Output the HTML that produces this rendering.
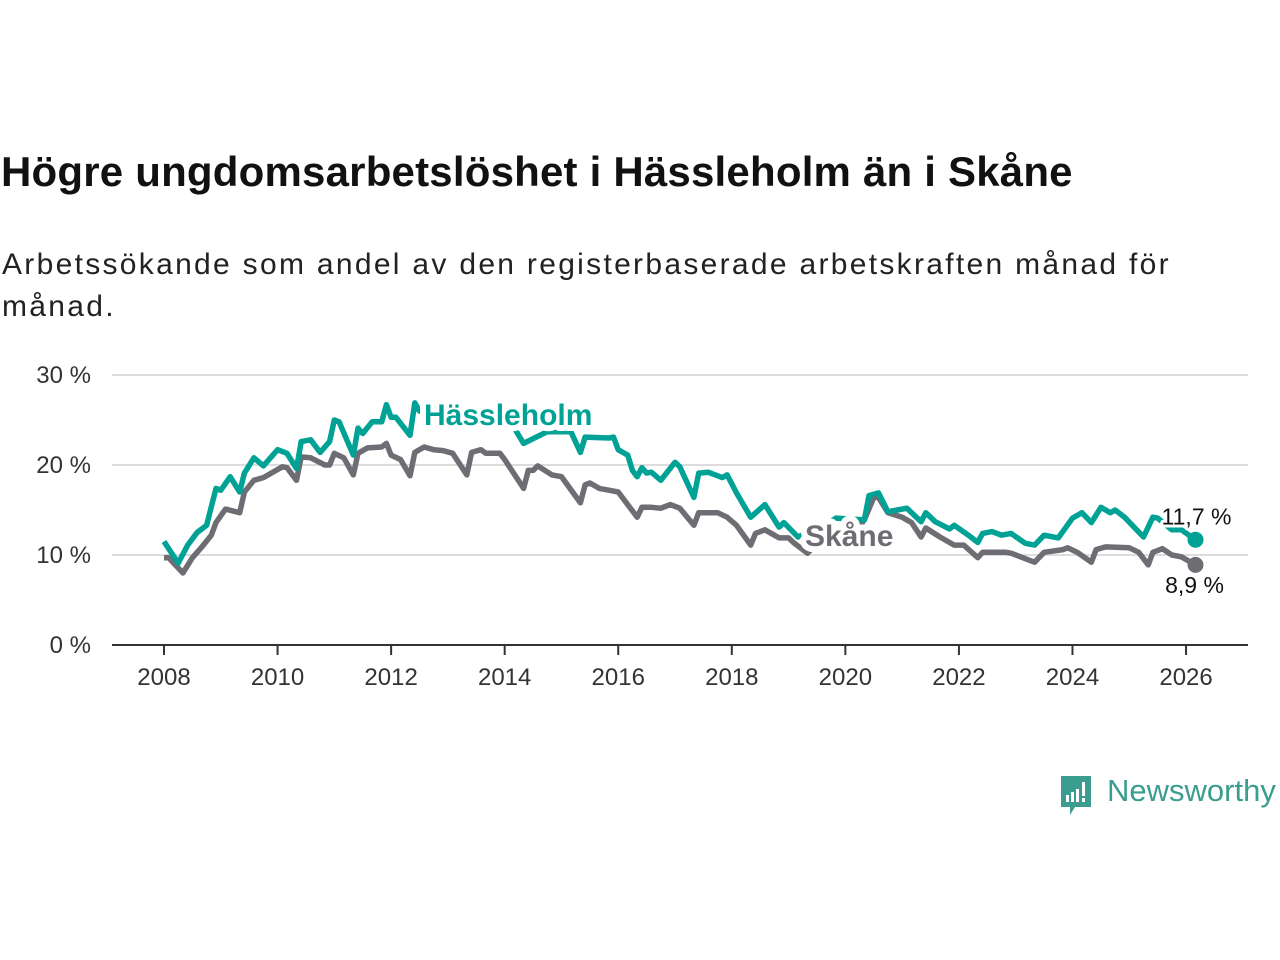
<!DOCTYPE html>
<html><head><meta charset="utf-8">
<style>
body{margin:0;background:#fff;width:1280px;height:960px;overflow:hidden;font-family:"Liberation Sans",sans-serif;position:relative}
#title{position:absolute;left:1px;top:148px;font-size:42px;font-weight:bold;color:#111;margin:0;white-space:nowrap;letter-spacing:0.2px}
#subtitle{position:absolute;left:2px;top:244px;font-size:30px;color:#222;line-height:42px;margin:0;letter-spacing:2.3px;white-space:nowrap}
svg{position:absolute;left:0;top:0}
</style></head><body>
<h1 id="title">Högre ungdomsarbetslöshet i Hässleholm än i Skåne</h1>
<p id="subtitle">Arbetssökande som andel av den registerbaserade arbetskraften månad för<br>månad.</p>
<svg id="chart" width="1280" height="960"></svg>
<div style="position:absolute;left:1059px;top:775px;height:42px;">
<svg width="36" height="44" style="position:absolute;left:0;top:0">
<path d="M2 1 H32 V32 H16 L11 40 V32 H2 Z" fill="#3a9d8f"/>
<rect x="7" y="20" width="3" height="7" fill="#fff"/><rect x="12" y="17" width="3" height="10" fill="#fff"/><rect x="17" y="14" width="3" height="13" fill="#fff"/><rect x="23" y="7" width="3" height="14" fill="#fff"/><rect x="23" y="23" width="3" height="4" fill="#fff"/>
</svg>
<span style="position:absolute;left:48px;top:-2px;font-size:31px;color:#3a9d8f;white-space:nowrap">Newsworthy</span>
</div>
<script>
const yTicks=[0,10,20,30];
const yTickLabels=["0 %","10 %","20 %","30 %"];
const xTicks=[2008,2010,2012,2014,2016,2018,2020,2022,2024,2026];
// months since Jan 2008
const hMonths=[0,3,5,7,9,11,12,14,16,17,19,21,24,26,28,29,31,33,35,36,37,40,41,42,44,46,47,48,49,52,53,54,57,60,63,66,70,73,76,81,86,88,89,94,95,96,98,99,100,101,102,103,105,108,109,112,113,115,118,119,121,124,127,130,131,134,136,139,142,145,148,149,151,153,155,157,160,161,163,166,167,170,172,173,175,177,179,182,184,186,189,192,194,196,198,200,201,203,207,209,210,213,215,218];
const hValues=[11.5,9.1,11.1,12.5,13.3,17.4,17.2,18.7,17,19.1,20.8,19.9,21.7,21.3,19.6,22.6,22.8,21.4,22.6,25,24.8,21.1,24.1,23.5,24.8,24.8,26.7,25.3,25.3,23.3,26.9,26,25.5,26,26,25.5,25.5,25,22.4,23.7,23.7,21.4,23.1,23,23.1,21.7,21.1,19.4,18.7,19.7,19.1,19.2,18.3,20.3,19.8,16.4,19.1,19.2,18.6,18.9,16.9,14.2,15.6,13.1,13.6,12,12.5,13,14.1,14,13.9,16.6,16.9,14.8,15,15.2,13.7,14.7,13.7,12.9,13.3,12.2,11.4,12.4,12.6,12.2,12.4,11.3,11.1,12.2,11.9,14.1,14.7,13.6,15.3,14.7,15,14.2,12,14.2,14.1,12.8,12.8,11.7];
const sMonths=[0,1,4,6,8,10,11,13,16,17,19,21,23,25,26,28,29,31,34,35,36,38,40,41,43,46,47,48,50,52,53,55,57,59,61,64,65,67,68,71,72,73,76,77,78,79,82,84,88,89,90,92,94,96,100,101,103,105,107,109,112,113,117,119,121,124,125,127,130,132,133,136,139,143,146,148,150,151,153,156,158,160,161,164,167,169,172,173,178,179,183,184,186,190,191,193,196,197,199,204,206,208,209,211,213,215,218];
const sValues=[9.7,9.7,8,9.7,10.9,12.2,13.6,15.1,14.7,17,18.3,18.6,19.2,19.8,19.7,18.3,20.9,20.8,20,20,21.3,20.8,18.9,21.3,21.9,22,22.4,21.1,20.6,18.8,21.4,22,21.7,21.6,21.3,18.9,21.4,21.7,21.3,21.3,20.6,19.8,17.4,19.4,19.4,19.9,18.9,18.7,15.8,17.8,18,17.4,17.2,17,14.2,15.3,15.3,15.2,15.6,15.2,13.3,14.7,14.7,14.2,13.3,11.1,12.4,12.8,11.9,11.9,11.4,10.2,11.8,12,12.5,13.9,16.4,16.4,14.7,14.2,13.6,12,13,12,11.1,11.1,9.7,10.3,10.3,10.2,9.4,9.2,10.3,10.6,10.8,10.3,9.2,10.6,10.9,10.8,10.3,8.9,10.3,10.7,10,9.8,8.9];
const seriesNames=["Hässleholm","Skåne"];
const endLabels=["11,7 %","8,9 %"];

const svg=document.getElementById('chart');
const NS='http://www.w3.org/2000/svg';
const x=yr=>164+(yr-2008)*56.78;
const xm=m=>x(2008+m/12);
const y=v=>645-v*9;
function mk(t,a){const e=document.createElementNS(NS,t);for(const k in a)e.setAttribute(k,a[k]);svg.appendChild(e);return e;}

yTicks.forEach((t,i)=>{
  if(t>0){const g=mk('line',{x1:112,x2:1248,y1:y(t),y2:y(t),stroke:'#dcdcdc','stroke-width':2});
  
  }
  const l=mk('text',{x:91,y:y(t)+8,'text-anchor':'end','font-size':24,fill:'#333','font-family':'Liberation Sans, sans-serif'});
  l.textContent=yTickLabels[i];
  
  
});
const ax=mk('line',{x1:112,x2:1248,y1:645,y2:645,stroke:'#333','stroke-width':2});


xTicks.forEach(t=>{
  const tk=mk('line',{x1:x(t),x2:x(t),y1:645,y2:655,stroke:'#333','stroke-width':2});
  
  
  const l=mk('text',{x:x(t),y:685,'text-anchor':'middle','font-size':24,fill:'#333','font-family':'Liberation Sans, sans-serif'});
  l.textContent=t;
  
  
});
function line(ms,vs,col,name){
  const d=ms.map((m,i)=>(i?'L':'M')+xm(m).toFixed(1)+' '+y(vs[i]).toFixed(1)).join(' ');
  const p=mk('path',{d:d,fill:'none',stroke:col,'stroke-width':5.5,'stroke-linejoin':'round'});
  
  
  const n=ms.length-1;
  const c=mk('circle',{cx:xm(ms[n]),cy:y(vs[n]),r:8,fill:col});
  
  
}
line(sMonths,sValues,'#6e6d73','skane');
line(hMonths,hValues,'#00a295','hassleholm');
function lab(txt,xx,yy,col,w,size,name,anchor,sw){
  const t=mk('text',{x:xx,y:yy,'font-size':size,'font-weight':w,fill:col,stroke:'#fff','stroke-width':sw||6,'paint-order':'stroke','stroke-linejoin':'round','text-anchor':anchor||'start','font-family':'Liberation Sans, sans-serif'});
  t.textContent=txt;
  
  
}
lab(seriesNames[0],424,425,'#00a295','bold',30,'hassleholm-label','start',12);
lab(seriesNames[1],805,546,'#6e6d73','bold',30,'skane-label','start',12);
const nh=hMonths.length-1, ns=sMonths.length-1;
lab(endLabels[0],xm(hMonths[nh])+1,y(hValues[nh])-15,'#111','normal',23,'hassleholm-end-label','middle');
lab(endLabels[1],xm(sMonths[ns])-1,y(sValues[ns])+28,'#111','normal',23,'skane-end-label','middle');
</script>
</body></html>
